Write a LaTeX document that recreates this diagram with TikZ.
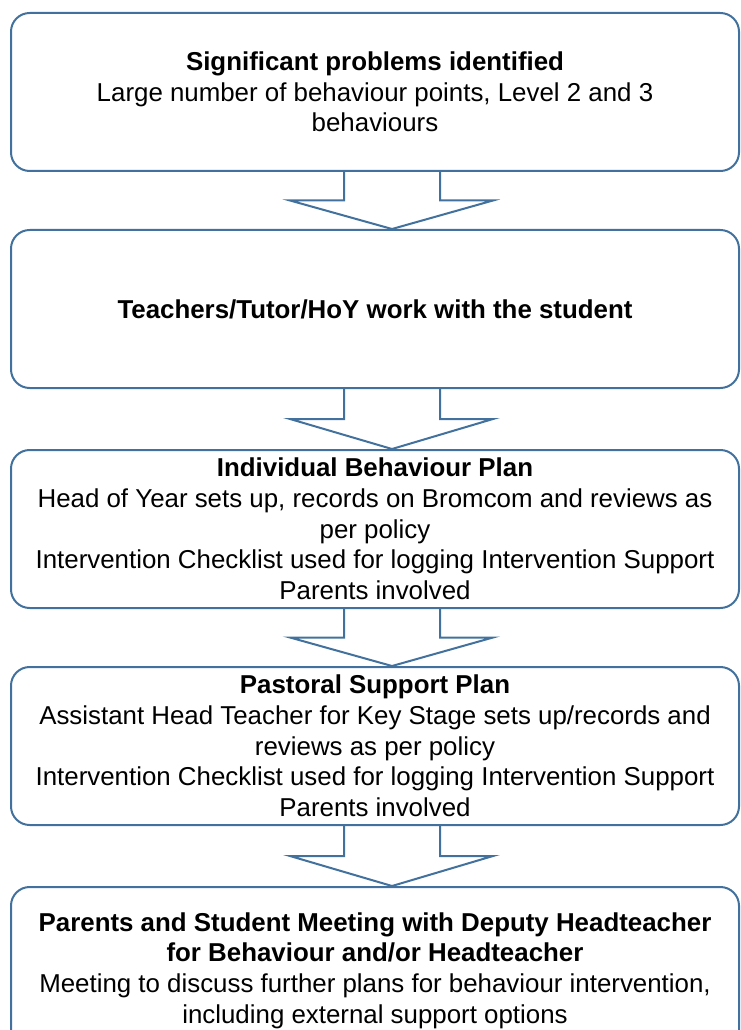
\documentclass[tikz,border=0pt]{standalone}
\usepackage{fontspec}
\setmainfont{Liberation Sans}
\usetikzlibrary{positioning,calc}
\definecolor{flowblue}{RGB}{65,113,156}

% hollow block arrow from the bottom of one box to the top of the next
\newcommand{\flowarrow}[2]{%
  \draw[arrowline] let \p1=(#1.south), \p2=(#2.north), \n1={(\y1+\y2)/2} in
    (\x1-23.25pt,\y1) -- (\x1-23.25pt,\n1) -- (\x1-63.75pt,\n1) -- (\x1+12.75pt,\y2)
    -- (\x1+88.5pt,\n1) -- (\x1+48.75pt,\n1) -- (\x1+48.75pt,\y1);
}

\begin{document}
\begin{tikzpicture}[x=0.75pt,y=-0.75pt,
  flowbox/.style={draw=flowblue,line width=1.5pt,rounded corners=14pt,fill=white,align=center,
    minimum width=546pt,minimum height=118.5pt,inner ysep=1pt,
    font={\fontsize{19.4pt}{23pt}\selectfont}},
  arrowline/.style={draw=flowblue,line width=1.5pt}]
\useasboundingbox (0,0) rectangle (740,1030);
\node[flowbox] (probs) at (375,92) {\textbf{Significant problems identified}\\Large number of behaviour points, Level 2 and 3\\behaviours};
\node[flowbox,below=42.75pt of probs] (staff) {\textbf{Teachers/Tutor/HoY work with the student}};
\node[flowbox,below=45pt of staff] (ibp) {\textbf{Individual Behaviour Plan}\\Head of Year sets up, records on Bromcom and reviews as\\per policy\\Intervention Checklist used for logging Intervention Support\\Parents involved};
\node[flowbox,below=42.75pt of ibp] (psp) {\textbf{Pastoral Support Plan}\\Assistant Head Teacher for Key Stage sets up/records and\\reviews as per policy\\Intervention Checklist used for logging Intervention Support\\Parents involved};
\node[flowbox,below=45pt of psp,minimum height=125pt] (meet) {\textbf{Parents and Student Meeting with Deputy Headteacher}\\\textbf{for Behaviour and/or Headteacher}\\Meeting to discuss further plans for behaviour intervention,\\including external support options};
\flowarrow{probs}{staff}
\flowarrow{staff}{ibp}
\flowarrow{ibp}{psp}
\flowarrow{psp}{meet}
\end{tikzpicture}
\end{document}
